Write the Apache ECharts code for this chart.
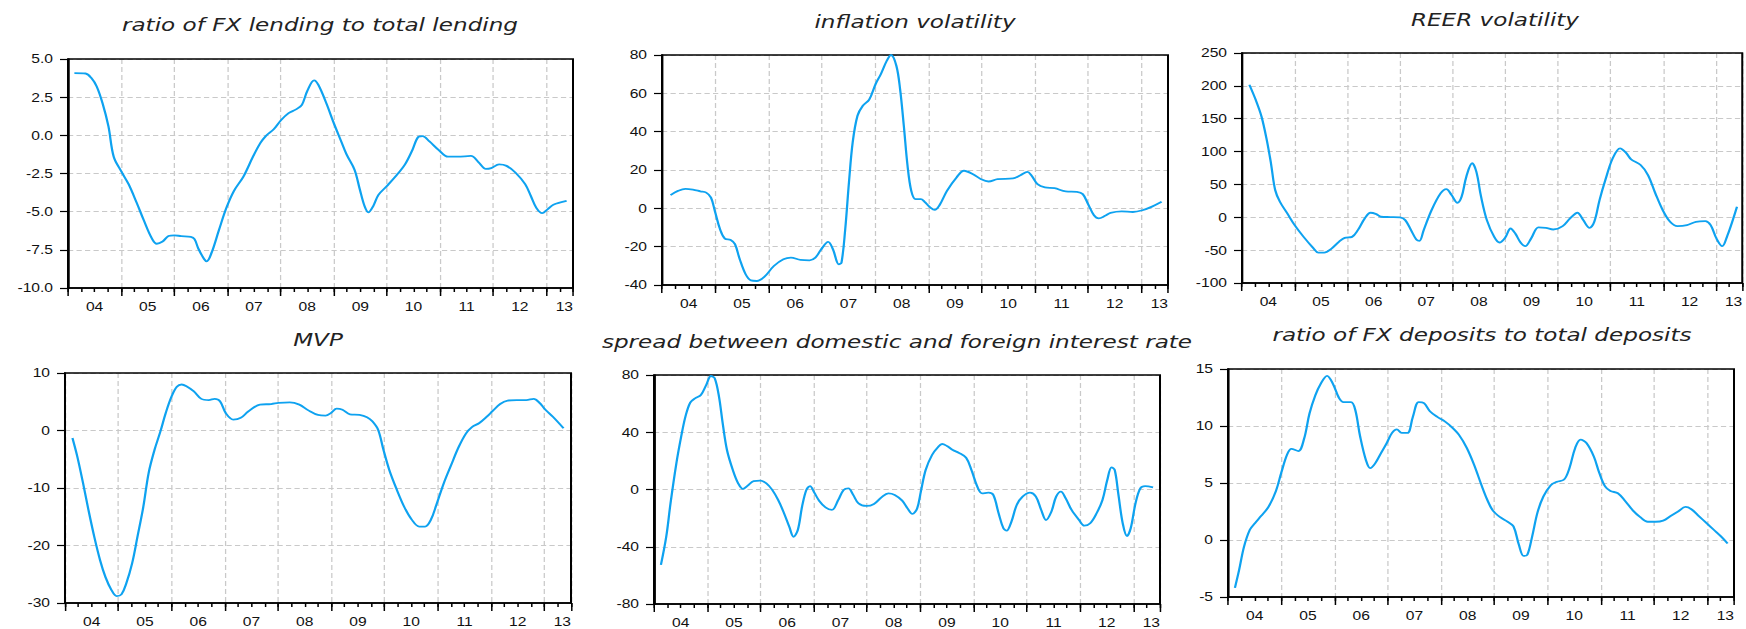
<!DOCTYPE html>
<html><head><meta charset="utf-8">
<script src="https://cdn.jsdelivr.net/npm/echarts@6/dist/echarts.min.js"></script>
<style>
html,body{margin:0;padding:0;background:#fff;overflow:hidden;}
#wrap{width:1397px;height:629px;transform:scaleX(1.249821);transform-origin:0 0;}
#chart{width:1397px;height:629px;}
</style></head>
<body><div id="wrap"><div id="chart"></div></div>
<script>
// ---- text ----
const panelTitles = [
  'ratio of FX lending to total lending',
  'inflation volatility',
  'REER volatility',
  'MVP',
  'spread between domestic and foreign interest rate',
  'ratio of FX deposits to total deposits'
];
const yearLabels = ['04','05','06','07','08','09','10','11','12','13'];

// ---- data: [year, value] ----
const fxLending = [[2004.12,4.08],[2004.33,4.05],[2004.44,3.75],[2004.54,3.2],[2004.65,2.1],[2004.76,0.6],[2004.86,-1.4],[2005.0,-2.35],[2005.14,-3.2],[2005.29,-4.4],[2005.43,-5.6],[2005.57,-6.7],[2005.67,-7.1],[2005.78,-6.95],[2005.89,-6.6],[2006.0,-6.55],[2006.13,-6.6],[2006.31,-6.65],[2006.38,-6.8],[2006.45,-7.4],[2006.56,-8.1],[2006.61,-8.25],[2006.70,-7.7],[2006.84,-6.2],[2006.98,-4.75],[2007.12,-3.65],[2007.30,-2.7],[2007.48,-1.4],[2007.62,-0.5],[2007.72,-0.05],[2007.87,0.4],[2008.01,1.0],[2008.15,1.45],[2008.29,1.7],[2008.40,2.0],[2008.50,2.9],[2008.63,3.6],[2008.71,3.3],[2008.86,2.1],[2009.0,0.8],[2009.14,-0.4],[2009.24,-1.25],[2009.39,-2.25],[2009.49,-3.55],[2009.58,-4.65],[2009.65,-5.05],[2009.74,-4.65],[2009.84,-3.9],[2009.99,-3.35],[2010.16,-2.7],[2010.34,-1.9],[2010.48,-0.95],[2010.59,-0.1],[2010.67,-0.05],[2010.80,-0.4],[2010.97,-0.95],[2011.15,-1.4],[2011.33,-1.4],[2011.58,-1.35],[2011.72,-1.75],[2011.86,-2.2],[2011.96,-2.15],[2012.11,-1.9],[2012.25,-2.0],[2012.42,-2.45],[2012.60,-3.2],[2012.71,-4.0],[2012.81,-4.75],[2012.92,-5.1],[2013.02,-4.85],[2013.13,-4.55],[2013.38,-4.3]];

const inflationVol = [[2004.16,6.9],[2004.30,9.1],[2004.44,10.2],[2004.58,9.8],[2004.72,8.9],[2004.83,8.2],[2004.92,5.6],[2005.0,-2.2],[2005.09,-10.9],[2005.18,-15.8],[2005.29,-16.5],[2005.37,-18.7],[2005.46,-26.6],[2005.57,-34.4],[2005.67,-37.6],[2005.78,-37.9],[2005.92,-35.8],[2006.10,-30.1],[2006.28,-26.6],[2006.42,-25.7],[2006.60,-26.9],[2006.77,-27.1],[2006.88,-25.7],[2006.98,-21.7],[2007.12,-17.5],[2007.21,-21.4],[2007.32,-29.2],[2007.37,-28.3],[2007.44,-10.9],[2007.51,13.5],[2007.58,34.4],[2007.67,48.3],[2007.77,53.5],[2007.89,56.7],[2008.01,64.8],[2008.11,70.1],[2008.22,77.0],[2008.30,80.0],[2008.40,74.4],[2008.47,62.2],[2008.54,43.1],[2008.61,22.2],[2008.68,9.1],[2008.76,4.8],[2008.86,4.8],[2008.93,3.4],[2009.04,0.4],[2009.12,-0.8],[2009.21,1.6],[2009.35,9.1],[2009.53,16.1],[2009.67,19.6],[2009.84,17.8],[2009.99,15.2],[2010.13,14.0],[2010.30,15.2],[2010.59,15.6],[2010.73,17.3],[2010.86,19.0],[2010.94,17.0],[2011.05,12.6],[2011.19,10.9],[2011.37,10.5],[2011.58,8.8],[2011.79,8.6],[2011.90,7.4],[2012.0,2.2],[2012.11,-3.6],[2012.20,-5.2],[2012.32,-3.9],[2012.42,-2.4],[2012.63,-1.6],[2012.84,-1.9],[2013.02,-1.0],[2013.20,0.9],[2013.38,3.4]];

const reerVol = [[2004.14,201.7],[2004.26,178.8],[2004.37,153.4],[2004.47,117.8],[2004.55,82.2],[2004.63,41.5],[2004.72,23.6],[2004.86,5.9],[2005.0,-11.9],[2005.17,-29.8],[2005.35,-46.5],[2005.45,-53.7],[2005.56,-53.7],[2005.70,-47.6],[2005.84,-37.4],[2005.95,-31.3],[2006.09,-29.8],[2006.20,-19.6],[2006.33,-1.8],[2006.44,6.9],[2006.55,4.8],[2006.64,0.8],[2006.82,0.3],[2007.0,-0.3],[2007.10,-4.3],[2007.21,-19.6],[2007.31,-33.8],[2007.37,-35.9],[2007.45,-19.6],[2007.60,10.9],[2007.77,36.4],[2007.88,43.0],[2007.98,33.8],[2008.09,22.1],[2008.17,31.3],[2008.26,61.8],[2008.37,82.2],[2008.45,69.4],[2008.54,31.3],[2008.65,-4.3],[2008.79,-29.8],[2008.89,-38.4],[2009.0,-30.8],[2009.10,-17.1],[2009.19,-24.7],[2009.29,-38.4],[2009.38,-44.0],[2009.49,-32.3],[2009.63,-15.5],[2009.77,-16.0],[2009.91,-18.6],[2010.09,-13.5],[2010.23,-1.8],[2010.37,6.9],[2010.48,-4.3],[2010.60,-16.0],[2010.69,-6.9],[2010.79,26.2],[2010.90,56.7],[2011.04,89.8],[2011.18,105.0],[2011.29,98.4],[2011.39,88.2],[2011.57,79.6],[2011.71,64.3],[2011.85,36.4],[2011.99,10.9],[2012.13,-6.9],[2012.27,-13.5],[2012.45,-12.0],[2012.62,-6.9],[2012.80,-5.9],[2012.90,-12.0],[2013.01,-32.3],[2013.12,-44.0],[2013.22,-27.2],[2013.33,-1.8],[2013.40,16.0]];

const mvp = [[2004.14,-1.3],[2004.23,-4.5],[2004.34,-9.2],[2004.44,-13.8],[2004.55,-18.5],[2004.66,-22.6],[2004.76,-25.5],[2004.87,-27.7],[2004.97,-28.8],[2005.06,-28.5],[2005.15,-26.6],[2005.26,-23.1],[2005.36,-18.5],[2005.47,-13.3],[2005.57,-7.4],[2005.68,-3.4],[2005.79,-0.2],[2005.89,3.0],[2006.0,5.9],[2006.10,7.6],[2006.19,8.0],[2006.28,7.7],[2006.42,6.8],[2006.56,5.5],[2006.70,5.3],[2006.81,5.5],[2006.91,5.1],[2007.02,3.0],[2007.16,1.9],[2007.30,2.2],[2007.44,3.3],[2007.66,4.5],[2007.87,4.6],[2008.01,4.8],[2008.22,4.9],[2008.40,4.5],[2008.57,3.5],[2008.75,2.7],[2008.89,2.6],[2009.0,3.1],[2009.10,3.8],[2009.21,3.6],[2009.35,2.8],[2009.53,2.7],[2009.67,2.3],[2009.77,1.6],[2009.88,0.1],[2009.98,-3.4],[2010.09,-6.9],[2010.23,-10.3],[2010.37,-13.3],[2010.51,-15.5],[2010.65,-16.7],[2010.76,-16.7],[2010.87,-15.5],[2010.97,-13.0],[2011.11,-9.2],[2011.25,-6.0],[2011.39,-2.9],[2011.53,-0.5],[2011.64,0.6],[2011.78,1.3],[2011.92,2.4],[2012.03,3.4],[2012.17,4.6],[2012.31,5.2],[2012.48,5.3],[2012.66,5.3],[2012.80,5.5],[2012.91,4.8],[2013.02,3.6],[2013.16,2.4],[2013.36,0.4]];

const rateSpread = [[2004.13,-52.7],[2004.23,-33.0],[2004.31,-9.7],[2004.42,18.3],[2004.51,36.9],[2004.59,50.9],[2004.68,60.7],[2004.77,63.7],[2004.88,66.0],[2004.98,73.0],[2005.07,79.3],[2005.14,77.7],[2005.22,64.9],[2005.29,46.2],[2005.37,27.6],[2005.48,13.6],[2005.58,4.3],[2005.67,0.4],[2005.76,2.7],[2005.87,5.9],[2005.99,6.2],[2006.11,4.3],[2006.22,-0.3],[2006.33,-7.3],[2006.43,-15.5],[2006.54,-26.0],[2006.62,-33.0],[2006.70,-28.3],[2006.78,-12.0],[2006.86,-0.3],[2006.93,2.4],[2007.01,-2.2],[2007.10,-7.8],[2007.22,-12.5],[2007.34,-14.3],[2007.46,-7.3],[2007.56,-0.3],[2007.65,0.8],[2007.74,-3.8],[2007.84,-9.7],[2007.99,-11.5],[2008.13,-10.1],[2008.27,-5.5],[2008.40,-2.7],[2008.52,-3.8],[2008.66,-7.8],[2008.76,-13.2],[2008.85,-17.1],[2008.94,-13.2],[2009.01,-1.5],[2009.10,13.6],[2009.22,24.1],[2009.33,29.5],[2009.41,31.8],[2009.50,30.4],[2009.61,27.6],[2009.72,25.7],[2009.86,22.2],[2009.96,13.6],[2010.07,2.0],[2010.16,-2.7],[2010.28,-2.2],[2010.37,-3.8],[2010.47,-16.6],[2010.56,-27.1],[2010.62,-28.8],[2010.71,-22.5],[2010.81,-10.8],[2010.92,-5.0],[2011.06,-2.2],[2011.17,-5.0],[2011.27,-14.3],[2011.36,-21.3],[2011.46,-15.5],[2011.55,-5.0],[2011.64,-1.5],[2011.73,-6.2],[2011.84,-14.3],[2011.98,-21.3],[2012.08,-25.3],[2012.19,-23.6],[2012.31,-16.6],[2012.42,-7.3],[2012.51,6.6],[2012.59,15.5],[2012.65,13.6],[2012.72,-3.8],[2012.80,-23.6],[2012.88,-32.5],[2012.95,-27.1],[2013.04,-9.7],[2013.13,0.8],[2013.22,2.4],[2013.37,1.5]];

const fxDeposits = [[2004.13,-4.2],[2004.21,-2.6],[2004.30,-0.6],[2004.41,0.9],[2004.51,1.5],[2004.62,2.1],[2004.76,2.9],[2004.90,4.3],[2005.00,5.9],[2005.11,7.5],[2005.19,8.0],[2005.32,7.8],[2005.43,8.9],[2005.53,11.1],[2005.64,12.7],[2005.74,13.7],[2005.86,14.4],[2005.97,13.7],[2006.08,12.5],[2006.17,12.1],[2006.31,12.1],[2006.39,11.4],[2006.48,9.1],[2006.59,7.0],[2006.67,6.3],[2006.76,6.7],[2006.87,7.6],[2006.98,8.5],[2007.08,9.4],[2007.17,9.7],[2007.26,9.4],[2007.37,9.4],[2007.47,10.8],[2007.58,12.1],[2007.68,12.0],[2007.79,11.3],[2007.93,10.8],[2008.07,10.4],[2008.20,9.9],[2008.34,9.2],[2008.48,8.1],[2008.62,6.6],[2008.76,4.8],[2008.87,3.5],[2008.97,2.6],[2009.11,2.0],[2009.25,1.6],[2009.36,1.2],[2009.46,-0.4],[2009.55,-1.4],[2009.62,-1.3],[2009.71,0.3],[2009.81,2.4],[2009.92,3.8],[2010.06,4.8],[2010.17,5.1],[2010.31,5.3],[2010.41,6.3],[2010.52,8.1],[2010.62,8.8],[2010.73,8.5],[2010.87,7.3],[2010.97,5.9],[2011.08,4.7],[2011.18,4.3],[2011.32,4.1],[2011.46,3.4],[2011.60,2.6],[2011.74,2.0],[2011.88,1.6],[2012.03,1.6],[2012.17,1.7],[2012.31,2.1],[2012.45,2.5],[2012.59,2.9],[2012.70,2.7],[2012.84,2.1],[2012.98,1.5],[2013.12,0.9],[2013.26,0.3],[2013.38,-0.3]];

const seriesData = [fxLending, inflationVol, reerVol, mvp, rateSpread, fxDeposits];
const yMin = [-10, -40, -100, -30, -80, -5];
const yMax = [5, 80, 250, 10, 80, 15];
const yStep = [2.5, 20, 50, 10, 40, 5];
const yDecimals = [1, 0, 0, 0, 0, 0];

// ---- layout (page px, before horizontal stretch) ----
const S = 1746 / 1397;
const px = v => v / S;
const plotBoxes = [ // left, top, width, height in page px
  [68, 59, 505, 229], [662, 55, 506, 230], [1242, 53, 506, 230],
  [65, 373, 506, 230], [654, 375, 506, 229], [1228, 369, 506, 228]
];
const titlePos = [[320, 25], [915, 22], [1495, 20], [318, 340], [897, 342], [1482, 335]];

const LINE = '#0ea2f0', GRID = '#c9c9c9', INK = '#111';
const option = { animation: false, backgroundColor: '#fff',
  title: [], grid: [], xAxis: [], yAxis: [], series: [] };

for (let i = 0; i < 6; i++) {
  const b = plotBoxes[i];
  option.grid.push({ left: px(b[0]), top: b[1], width: px(b[2]), height: b[3], z: 3,
    show: true, borderColor: '#000', borderWidth: 1.6, backgroundColor: 'rgba(0,0,0,0)' });
  option.title.push({ text: panelTitles[i], left: px(titlePos[i][0]) - 5, top: titlePos[i][1] - 15,
    textAlign: 'center',
    textStyle: { fontFamily: 'DejaVu Sans', fontStyle: 'italic', fontWeight: 'normal', fontSize: 18.5, color: '#222' } });
  // year axis: gridlines + long ticks
  option.xAxis.push({ type: 'value', gridIndex: i, position: 'bottom', offset: 0, min: 2004, max: 2013.5, interval: 1,
    axisLine: { show: true, onZero: false, lineStyle: { color: '#000', width: 1.6 } },
    axisTick: { show: true, length: 8, lineStyle: { color: '#000', width: 1.2 } },
    axisLabel: { show: false },
    splitLine: { show: true, lineStyle: { color: GRID, width: 1, type: [5, 3] } } });
  // quarter axis: short ticks + year labels at mid-year
  option.xAxis.push({ type: 'value', gridIndex: i, position: 'bottom', offset: 0, min: 2004, max: 2013.5, interval: 0.25,
    axisLine: { show: false, onZero: false },
    axisTick: { show: true, length: 4, lineStyle: { color: '#000', width: 1.2 } },
    splitLine: { show: false },
    axisLabel: { show: true, margin: 12, alignMaxLabel: 'right', color: INK,
      fontFamily: 'Liberation Sans', fontSize: 12.5,
      formatter: v => { const f = v - Math.floor(v);
        return Math.abs(f - 0.5) < 1e-6 ? yearLabels[Math.floor(v) - 2004] : ''; } } });
  option.yAxis.push({ type: 'value', gridIndex: i, position: 'left', min: yMin[i], max: yMax[i], interval: yStep[i],
    axisLine: { show: true, onZero: false, lineStyle: { color: '#000', width: 1.6 } },
    axisTick: { show: true, length: px(8), lineStyle: { color: '#000', width: 1.2 } },
    axisLabel: { margin: px(15), color: INK, fontFamily: 'Liberation Sans', fontSize: 12.5,
      formatter: v => v.toFixed(yDecimals[i]) },
    splitLine: { show: true, lineStyle: { color: GRID, width: 1, type: [4.2, 2.6] } } });
  option.series.push({ type: 'line', xAxisIndex: 2 * i, yAxisIndex: i, data: seriesData[i],
    showSymbol: false, symbol: 'none', smooth: 0.35,
    lineStyle: { color: LINE, width: 1.8 } });
}

const chart = echarts.init(document.getElementById('chart'), null, { renderer: 'svg', width: 1397, height: 629 });
chart.setOption(option);
</script>
</body></html>
